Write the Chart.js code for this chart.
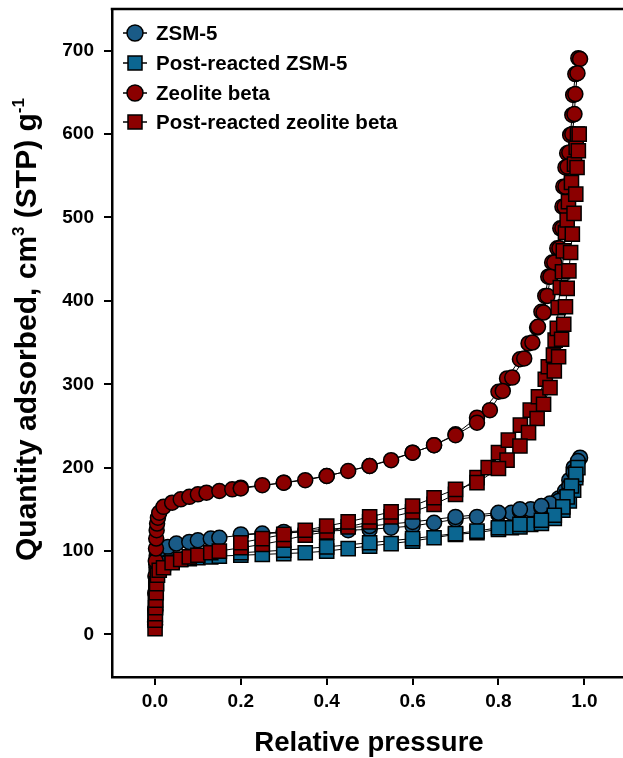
<!DOCTYPE html>
<html lang="en">
<head>
<meta charset="UTF-8">
<title>Nitrogen isotherms</title>
<script src="https://cdn.jsdelivr.net/npm/chart.js"></script>
<style>
  html, body { margin: 0; padding: 0; background: #fff; }
  #wrap { position: relative; width: 623px; height: 758px; }
</style>
</head>
<body>
<div id="wrap"><canvas id="chart"></canvas></div>
<script>
// ZSM-5 (adsorption then desorption)
const zsmP = [0.0005, 0.001, 0.0015, 0.002, 0.003, 0.004, 0.006,
  0.01, 0.03, 0.05, 0.08, 0.1, 0.13, 0.15, 0.2, 0.25,
  0.3, 0.35, 0.4, 0.45, 0.5, 0.55, 0.6, 0.65, 0.7, 0.75,
  0.8, 0.83, 0.85, 0.875, 0.9, 0.92, 0.94, 0.955, 0.965, 0.975, 0.99,
  0.985, 0.975, 0.965, 0.955, 0.94, 0.92, 0.9, 0.85, 0.8, 0.7, 0.6, 0.5, 0.4, 0.3, 0.2];
const zsmQ = [12, 29, 49, 69, 84, 94, 100,
  102, 105, 109, 111, 113, 115, 116, 119, 121,
  122, 123, 124, 125, 126, 128, 130, 134, 138, 141,
  144, 146, 148, 150, 152, 156, 163, 172, 185, 200, 212,
  208, 195, 178, 166, 160, 157, 154, 150, 146, 141, 135, 130, 126, 123, 120];

// Post-reacted ZSM-5
const postZsmP = [0.0005, 0.001, 0.002, 0.003, 0.005,
  0.01, 0.02, 0.04, 0.06, 0.08, 0.1, 0.13, 0.15,
  0.2, 0.25, 0.3, 0.35, 0.4, 0.45, 0.5, 0.55, 0.6, 0.65, 0.7, 0.75,
  0.8, 0.83, 0.85, 0.875, 0.9, 0.93, 0.95, 0.965, 0.975, 0.98, 0.985,
  0.98, 0.97, 0.96, 0.95, 0.93, 0.9, 0.85, 0.8, 0.75, 0.7, 0.6, 0.5, 0.4, 0.3, 0.2];
const postZsmQ = [20, 40, 58, 72, 80,
  82, 85, 88, 90, 91, 92, 93, 94,
  95, 96, 97, 98, 100, 103, 106, 109, 112, 116, 120, 122,
  126, 128, 129, 132, 133, 139, 149, 160, 173, 188, 200,
  192, 178, 165, 153, 143, 137, 132, 128, 124, 121, 115, 110, 105, 101, 98];

// Zeolite beta
const betaP = [0.0003, 0.0006, 0.001, 0.0015, 0.002, 0.0025, 0.003, 0.004, 0.005, 0.007,
  0.01, 0.02, 0.04, 0.06, 0.08, 0.1, 0.12, 0.15, 0.18, 0.2,
  0.25, 0.3, 0.35, 0.4, 0.45, 0.5, 0.55, 0.6, 0.65, 0.7, 0.75,
  0.8, 0.82, 0.85, 0.87, 0.89,
  0.9, 0.909, 0.916, 0.925, 0.937, 0.944, 0.949, 0.951, 0.956, 0.96, 0.967, 0.972, 0.974, 0.979, 0.986,
  0.99, 0.984, 0.979, 0.977, 0.972, 0.965, 0.961, 0.956, 0.954, 0.949,
  0.942, 0.93, 0.921, 0.914, 0.905, 0.892, 0.879, 0.86, 0.832, 0.81,
  0.78, 0.75, 0.7, 0.65, 0.6, 0.5, 0.4, 0.3, 0.2];
const betaQ = [15, 30, 50, 70, 88, 103, 115, 125, 133, 140,
  146, 153, 158, 162, 165, 168, 170, 172, 174, 176,
  179, 182, 185, 190, 196, 202, 209, 218, 227, 240, 260,
  291, 307, 330, 349, 368,
  387, 406, 429, 446, 463, 487, 513, 537, 560, 577, 599, 623, 647, 672, 691,
  690, 673, 648, 624, 600, 578, 561, 537, 513, 487,
  463, 446, 429, 406, 386, 369, 350, 331, 308, 292,
  269, 254, 239, 227, 218, 202, 190, 182, 175];

// Post-reacted zeolite beta
const postBetaP = [0.0003, 0.0006, 0.001, 0.0015, 0.002, 0.003, 0.004, 0.006,
  0.01, 0.02, 0.04, 0.06, 0.08, 0.1, 0.13, 0.15,
  0.2, 0.25, 0.3, 0.35, 0.4, 0.45, 0.5, 0.55, 0.6, 0.65, 0.7, 0.75,
  0.776, 0.8, 0.823, 0.851, 0.874, 0.893, 0.909, 0.916, 0.928, 0.932, 0.937,
  0.939, 0.944, 0.949, 0.951, 0.956, 0.96, 0.963, 0.97, 0.977, 0.981, 0.984,
  0.988, 0.986, 0.983, 0.98, 0.976, 0.972, 0.968, 0.964, 0.96, 0.956,
  0.952, 0.947, 0.94, 0.93, 0.92, 0.905, 0.89, 0.87, 0.85, 0.82,
  0.8, 0.75, 0.7, 0.65, 0.6, 0.55, 0.5, 0.45, 0.4, 0.35, 0.3, 0.25, 0.2];
const postBetaQ = [7, 17, 25, 32, 41, 50, 61, 71,
  77, 80, 86, 90, 93, 95, 98, 100,
  104, 108, 113, 119, 123, 129, 135, 141, 147, 156, 168, 188,
  200, 218, 233, 251, 269, 285, 306, 321, 335, 353, 367,
  392, 416, 435, 460, 482, 497, 519, 542, 564, 584, 600,
  600, 580, 560, 528, 505, 480, 458, 436, 415, 393,
  372, 354, 333, 316, 296, 276, 259, 242, 226, 209,
  199, 182, 174, 164, 154, 147, 141, 135, 130, 125, 120, 115, 110];

const seriesNames = ['ZSM-5', 'Post-reacted ZSM-5', 'Zeolite beta', 'Post-reacted zeolite beta'];
const xTicks = [0, 0.2, 0.4, 0.6, 0.8, 1.0];
const yTicks = [0, 100, 200, 300, 400, 500, 600, 700];

const FONT = '"Liberation Sans", Arial, sans-serif';
const BLUE = '#1a5b87';
const BLUE2 = '#0b6691';
const RED = '#8b0000';

function toPoints(p, q) {
  return p.map((v, i) => ({ x: v, y: q[i] }));
}

function makeSet(name, p, q, color, style, radius, order) {
  return {
    label: name,
    data: toPoints(p, q),
    showLine: true,
    borderColor: '#000',
    borderWidth: 1,
    backgroundColor: color,
    pointBackgroundColor: color,
    pointBorderColor: '#000',
    pointBorderWidth: 1.5,
    pointStyle: style,
    pointRadius: radius,
    order: order
  };
}

// legend, axis titles and top frame line
const decorations = {
  id: 'decorations',
  afterDraw(chart) {
    const ctx = chart.ctx;
    const area = chart.chartArea;
    ctx.save();

    // top frame
    ctx.strokeStyle = '#000';
    ctx.lineWidth = 2.5;
    ctx.beginPath();
    ctx.moveTo(area.left - 1.25, area.top);
    ctx.lineTo(area.right, area.top);
    ctx.stroke();

    // legend
    const rows = [33, 63, 93, 122];
    chart.data.datasets.forEach((ds, i) => {
      const y = rows[i];
      const mx = 135;
      ctx.strokeStyle = '#000';
      ctx.lineWidth = 1.5;
      ctx.beginPath();
      ctx.moveTo(123, y);
      ctx.lineTo(147, y);
      ctx.stroke();
      ctx.fillStyle = ds.pointBackgroundColor;
      ctx.beginPath();
      if (ds.pointStyle === 'rect') {
        ctx.rect(mx - 7, y - 7, 14, 14);
      } else {
        ctx.arc(mx, y, 8, 0, Math.PI * 2);
      }
      ctx.fill();
      ctx.stroke();
      ctx.fillStyle = '#000';
      ctx.font = 'bold 20.5px ' + FONT;
      ctx.textAlign = 'left';
      ctx.textBaseline = 'middle';
      ctx.fillText(ds.label, 156, y + 1);
    });

    // x title
    ctx.fillStyle = '#000';
    ctx.font = 'bold 27.5px ' + FONT;
    ctx.textAlign = 'center';
    ctx.textBaseline = 'alphabetic';
    ctx.fillText('Relative pressure', 369, 751);

    // y title with superscripts
    const parts = [
      { t: 'Quantity adsorbed, cm', sup: false },
      { t: '3', sup: true },
      { t: ' (STP) g', sup: false },
      { t: '-1', sup: true }
    ];
    ctx.translate(36, 561);
    ctx.rotate(-Math.PI / 2);
    ctx.textAlign = 'left';
    let x = 0;
    parts.forEach(part => {
      ctx.font = part.sup ? 'bold 17px ' + FONT : 'bold 30px ' + FONT;
      ctx.fillText(part.t, x, part.sup ? -12 : 0);
      x += ctx.measureText(part.t).width;
    });
    ctx.restore();
  }
};

const tickFont = { family: FONT, size: 19, weight: 'bold' };

new Chart(document.getElementById('chart'), {
  type: 'scatter',
  data: {
    datasets: [
      makeSet(seriesNames[0], zsmP, zsmQ, BLUE, 'circle', 7.5, 4),
      makeSet(seriesNames[1], postZsmP, postZsmQ, BLUE2, 'rect', 10, 3),
      makeSet(seriesNames[2], betaP, betaQ, RED, 'circle', 7.5, 2),
      makeSet(seriesNames[3], postBetaP, postBetaQ, RED, 'rect', 10, 1)
    ]
  },
  options: {
    responsive: true,
    maintainAspectRatio: false,
    animation: false,
    layout: { autoPadding: false, padding: { top: 9, left: 0, right: 0, bottom: 0 } },
    plugins: {
      legend: { display: false },
      tooltip: { enabled: false }
    },
    scales: {
      x: {
        type: 'linear',
        min: -0.1,
        max: 1.09,
        afterFit(s) {
          s.height = 81;
          s.paddingLeft = 0;
          s.paddingRight = 0;
        },
        afterBuildTicks(s) { s.ticks = xTicks.map(v => ({ value: v })); },
        ticks: {
          callback: v => v.toFixed(1),
          font: tickFont,
          color: '#000',
          padding: 5,
          maxRotation: 0,
          autoSkip: false
        },
        grid: { display: true, drawOnChartArea: false, drawTicks: true, tickLength: 8, color: '#000', lineWidth: 2 },
        border: { display: true, color: '#000', width: 2.5 }
      },
      y: {
        type: 'linear',
        min: -51,
        max: 750,
        afterFit(s) {
          s.width = 112;
          s.paddingTop = 0;
          s.paddingBottom = 0;
        },
        afterBuildTicks(s) { s.ticks = yTicks.map(v => ({ value: v })); },
        ticks: {
          font: tickFont,
          color: '#000',
          padding: 10,
          autoSkip: false
        },
        grid: { display: true, drawOnChartArea: false, drawTicks: true, tickLength: 8, color: '#000', lineWidth: 2 },
        border: { display: true, color: '#000', width: 2.5 }
      }
    }
  },
  plugins: [decorations]
});
</script>
</body>
</html>
